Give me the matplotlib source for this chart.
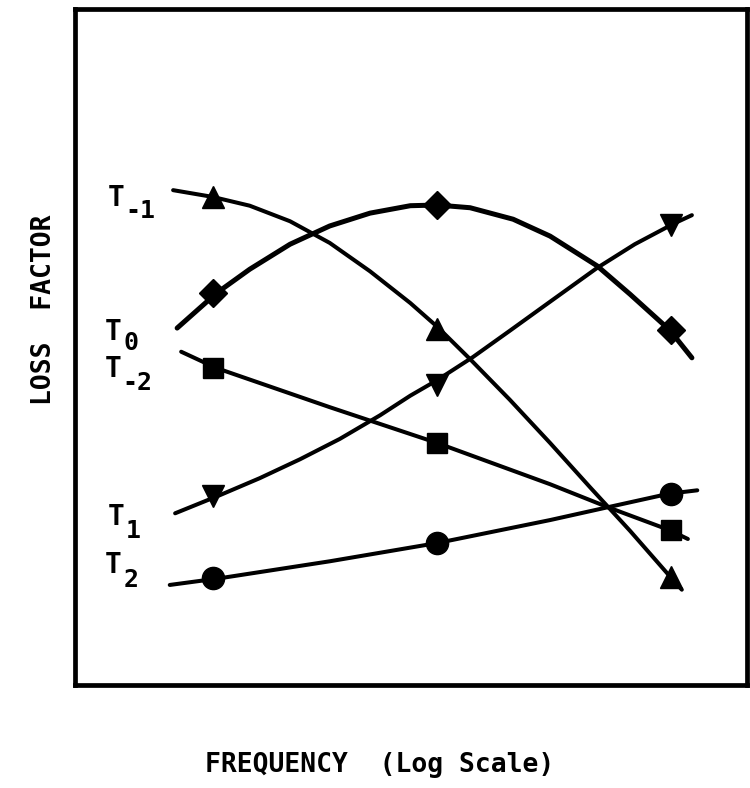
"""
Loss factor against frequency (log scale) at five temperatures T-2 .. T2.
Schematic plotter-style figure: black curves, filled markers, no ticks.
"""
import matplotlib
matplotlib.use("Agg")
import matplotlib.pyplot as plt

# frequency in log units across the frame (0-10), loss factor in arbitrary units (0-10)
MARKER_X = [2.05, 5.39, 8.87]

# T-1, triangle up
T_M1_X = [1.46, 2.05, 2.60, 3.20, 3.79, 4.39, 4.99, 5.39, 5.88, 6.47, 7.07, 7.66, 8.26, 8.85, 9.03]
T_M1_Y = [7.32, 7.22, 7.09, 6.86, 6.54, 6.12, 5.65, 5.30, 4.82, 4.22, 3.58, 2.93, 2.28, 1.61, 1.41]
T_M1_MARKS = [7.22, 5.27, 1.60]

# T0, diamond
T_0_X = [1.52, 2.11, 2.60, 3.20, 3.79, 4.39, 4.99, 5.39, 5.88, 6.52, 7.07, 7.77, 8.26, 8.85, 9.18]
T_0_Y = [5.28, 5.80, 6.15, 6.52, 6.79, 6.98, 7.09, 7.10, 7.06, 6.89, 6.64, 6.20, 5.78, 5.25, 4.84]
T_0_MARKS = [5.80, 7.10, 5.25]

# T1, triangle down
T_1_X = [1.49, 2.16, 2.75, 3.35, 3.94, 4.54, 4.99, 5.39, 5.92, 6.47, 7.07, 7.77, 8.33, 8.90, 9.18]
T_1_Y = [2.54, 2.81, 3.06, 3.34, 3.64, 3.99, 4.28, 4.51, 4.85, 5.24, 5.67, 6.17, 6.52, 6.82, 6.95]
T_1_MARKS = [2.80, 4.44, 6.80]

# T-2, square
T_M2_X = [1.58, 2.10, 3.79, 5.39, 7.07, 7.93, 8.85, 9.12]
T_M2_Y = [4.93, 4.69, 4.11, 3.58, 2.97, 2.63, 2.29, 2.16]
T_M2_MARKS = [4.69, 3.58, 2.29]

# T2, circle
T_2_X = [1.41, 2.16, 3.79, 5.39, 7.07, 7.93, 8.84, 9.26]
T_2_Y = [1.48, 1.58, 1.83, 2.10, 2.44, 2.63, 2.83, 2.88]
T_2_MARKS = [1.58, 2.10, 2.83]

SUBSCRIPTS = ["-1", "0", "-2", "1", "2"]

FONT = "DejaVu Sans Mono"

series = [
    (T_M1_X, T_M1_Y, T_M1_MARKS, "^", 16, 2.9),
    (T_0_X, T_0_Y, T_0_MARKS, "D", 14, 3.6),
    (T_1_X, T_1_Y, T_1_MARKS, "v", 16, 2.9),
    (T_M2_X, T_M2_Y, T_M2_MARKS, "s", 15, 2.9),
    (T_2_X, T_2_Y, T_2_MARKS, "o", 16, 2.9),
]

# where each "T" label sits (data coords, left/baseline) and the pixel shift of its subscript
label_anchor = [(0.49, 7.09), (0.45, 5.10), (0.45, 4.56), (0.48, 2.37), (0.45, 1.66)]
sub_shift = [(17, -12), (18, -10), (17, -13), (18, -13), (18, -14)]

fig = plt.figure(figsize=(7.5, 7.88), dpi=100)
ax = fig.add_axes([0.1, 0.1307, 0.896, 0.8579])

for xs, ys, marks, mk, ms, lw in series:
    ax.plot(xs, ys, color="black", lw=lw, solid_capstyle="round", solid_joinstyle="round")
    ax.plot(MARKER_X, marks, ls="none", marker=mk, ms=ms, color="black")

for sub, (lx, ly), (dx, dy) in zip(SUBSCRIPTS, label_anchor, sub_shift):
    ax.text(lx, ly, "T", fontsize=20, family=FONT, weight="bold", ha="left", va="baseline")
    ax.annotate(sub, xy=(lx, ly), xytext=(dx, dy), textcoords="offset pixels",
                fontsize=18, family=FONT, weight="bold", ha="left", va="baseline")

ax.set_xlim(0, 10)
ax.set_ylim(0, 10)
ax.set_xticks([])
ax.set_yticks([])
for sp in ax.spines.values():
    sp.set_linewidth(3.4)

fig.text(380 / 750, 1 - 772 / 788, "FREQUENCY  (Log Scale)", fontsize=19, family=FONT,
         weight="bold", ha="center", va="baseline")
fig.text(44 / 750, 1 - 310 / 788, "LOSS  FACTOR", fontsize=19, family=FONT,
         weight="bold", rotation=90, ha="center", va="center")

fig.savefig("out.png", dpi=100)
